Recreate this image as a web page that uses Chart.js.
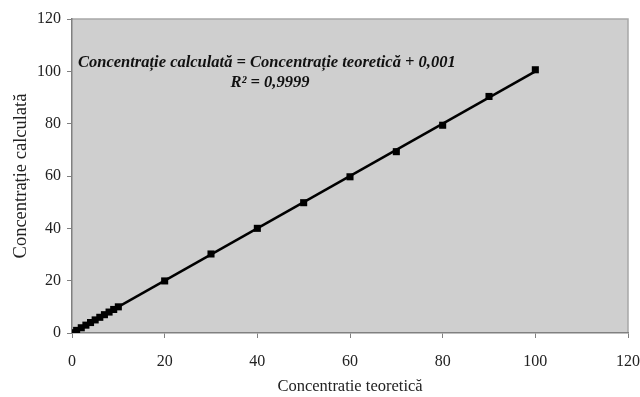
<!DOCTYPE html>
<html>
<head>
<meta charset="utf-8">
<script src="https://cdn.jsdelivr.net/npm/chart.js@4/dist/chart.umd.min.js"></script>
<style>
  html, body { margin: 0; padding: 0; background: #fff; }
  #wrap { width: 640px; height: 397px; }
</style>
</head>
<body>
<div id="wrap"><canvas id="calibChart"></canvas></div>
<script>
// measured data
const teoretica = [0, 1, 2, 3, 4, 5, 6, 7, 8, 9, 10, 20, 30, 40, 50, 60, 70, 80, 90, 100];
const calculata = [0.1, 1, 2, 3, 4, 5, 6, 7, 8, 9, 10, 19.9, 30.2, 40, 49.8, 59.7, 69.3, 79.4, 90.4, 100.6];
// trendline y = x + 0.001
const trendX = [0, 100];
const trendY = [0.001, 100.001];
const axisTicks = [0, 20, 40, 60, 80, 100, 120];

const plotBg = {
  id: "plotBg",
  beforeDraw(chart) {
    const { ctx, chartArea: a } = chart;
    ctx.save();
    ctx.fillStyle = "#cfcfcf";
    ctx.fillRect(a.left, a.top, a.right - a.left, a.bottom - a.top);
    ctx.strokeStyle = "#a8a8a8";
    ctx.lineWidth = 1.5;
    ctx.beginPath();
    ctx.moveTo(a.left, a.top);
    ctx.lineTo(a.right, a.top);
    ctx.lineTo(a.right, a.bottom);
    ctx.stroke();
    ctx.restore();
  },
  afterDraw(chart) {
    const { ctx } = chart;
    ctx.save();
    ctx.fillStyle = "#111";
    ctx.font = "bold italic 16.5px 'Liberation Serif'";
    ctx.textBaseline = "middle";
    ctx.textAlign = "left";
    ctx.fillText("Concentrație calculată = Concentrație teoretică + 0,001", 78, 63);
    ctx.textAlign = "center";
    ctx.fillText("R² = 0,9999", 270, 83);
    ctx.restore();
  },
};

const ctx = document.getElementById("calibChart");
new Chart(ctx, {
  type: "scatter",
  data: {
    datasets: [
      {
        label: "Trend",
        data: trendX.map((x, i) => ({ x: x, y: trendY[i] })),
        showLine: true,
        borderColor: "#000",
        borderWidth: 2.5,
        pointRadius: 0,
      },
      {
        label: "Concentratie",
        data: teoretica.map((x, i) => ({ x: x, y: calculata[i] })),
        pointStyle: "rect",
        pointRadius: 5,
        backgroundColor: "#000",
        borderColor: "#000",
        borderWidth: 0,
      },
    ],
  },
  options: {
    responsive: true,
    maintainAspectRatio: false,
    animation: false,
    layout: { padding: { top: 19, right: 12, left: 0, bottom: 0 } },
    plugins: {
      legend: { display: false },
      tooltip: { enabled: false },
    },
    scales: {
      x: {
        min: 0,
        max: 120,
        afterBuildTicks: (s) => { s.ticks = axisTicks.map((v) => ({ value: v })); },
        afterFit: (s) => { s.height = 64; s.paddingRight = 0; s.paddingLeft = 0; },
        grid: { drawOnChartArea: false, drawTicks: true, tickLength: 5, color: "#808080" },
        border: { color: "#808080", width: 1.5 },
        ticks: { color: "#222", padding: 14, font: { family: "Liberation Serif", size: 16 }, maxRotation: 0 },
        title: {
          display: true,
          text: "Concentratie teoretică",
          color: "#222",
          font: { family: "Liberation Serif", size: 16.5 },
          padding: { top: 0, bottom: 0 },
        },
      },
      y: {
        min: 0,
        max: 120,
        afterBuildTicks: (s) => { s.ticks = axisTicks.map((v) => ({ value: v })); },
        afterFit: (s) => { s.width = 72; },
        grid: { drawOnChartArea: false, drawTicks: true, tickLength: 5, color: "#808080" },
        border: { color: "#808080", width: 1.5 },
        ticks: { color: "#222", padding: 6, font: { family: "Liberation Serif", size: 16 } },
        title: {
          display: true,
          text: "Concentrație calculată",
          color: "#222",
          font: { family: "Liberation Serif", size: 18.5 },
          padding: { top: 10, bottom: 0 },
        },
      },
    },
  },
  plugins: [plotBg],
});
</script>
</body>
</html>
